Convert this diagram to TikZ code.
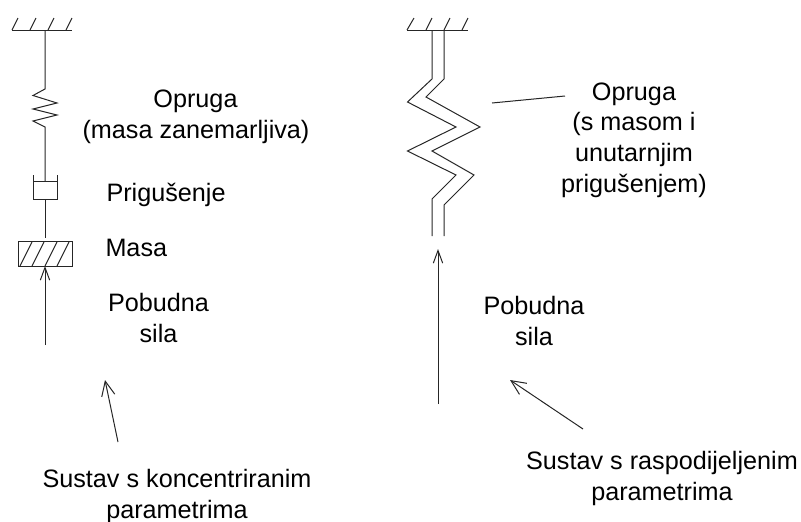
\documentclass[tikz,border=0pt]{standalone}
\usepackage{fontspec}
\setmainfont{Liberation Sans}
\usetikzlibrary{arrows.meta}
\tikzset{
  label text/.style={align=center,anchor=base,text=black,font=\fontsize{18.9}{23}\selectfont,inner sep=0pt},
  barb/.style={-{Straight Barb[length=9.5pt,width=7pt]}},
  wide barb/.style={-{Straight Barb[length=11pt,width=10pt]}},
}
\begin{document}
\begin{tikzpicture}[x=0.75pt,y=-0.75pt,line width=0.75pt,black!85]
  \useasboundingbox (0,0) rectangle (801,522);
  % lumped system
  \draw (12,30) -- (72,30);
  \draw (12,30) -- (18,18) (30,30) -- (36,18) (48,30) -- (54,18) (66,30) -- (72,18);
  \draw (45,30) -- (45,89) -- (33,95.5) -- (57,103) -- (33,109) -- (57,115) --
        (33,121) -- (45,127) -- (45,181);
  \draw (33,175) -- (33,199.5) -- (57,199.5) -- (57,175);
  \draw (33,181) -- (57,181);
  \draw (45,199.5) -- (45,238);
  \draw (18,241.5) rectangle (72,266);
  \draw (20,266) -- (32,242) (32,266) -- (44,242) (45,266) -- (57,242) (57,266) -- (69,242);
  \draw[barb] (45,345) -- (45,266);
  \draw[wide barb] (118,442) -- (105,380);
  % distributed system
  \draw (407,30) -- (468,30);
  \draw (407,30) -- (414,18) (426,30) -- (432,18) (444,30) -- (450,18) (462,30) -- (468,18);
  \draw (432,30) -- (432,79) -- (407.5,102) -- (456,127) -- (407.5,151) -- (456,175) --
        (432,199) -- (432,236);
  \draw (444,30) -- (444,79) -- (426,97) -- (480,127) -- (432,151) -- (474,175) --
        (444,205) -- (444,236);
  \draw (492,103) -- (565,96);
  \draw[barb] (438,404) -- (438,249);
  \draw[wide barb] (583,429) -- (510,380);
  % labels
  \path (195.5,107) node[label text] (oprugaA) {Opruga};
  \path (196,138) node[label text] (masaZan) {(masa zanemarljiva)};
  \path (106,201.5) node[label text,anchor=base west] (prigusenje) {Prigušenje};
  \path (105,256.5) node[label text,anchor=base west] (masa) {Masa};
  \path (158.5,342) node[label text] (silaA) {Pobudna\\sila};
  \path (177,518.5) node[label text] (sustavA) {Sustav s koncentriranim\\parametrima};
  \path (634,192) node[label text] (oprugaB) {Opruga\\(s masom i\\unutarnjim\\prigušenjem)};
  \path (534,345) node[label text] (silaB) {Pobudna\\sila};
  \path (662,500.5) node[label text] (sustavB) {Sustav s raspodijeljenim\\parametrima};
\end{tikzpicture}
\end{document}
